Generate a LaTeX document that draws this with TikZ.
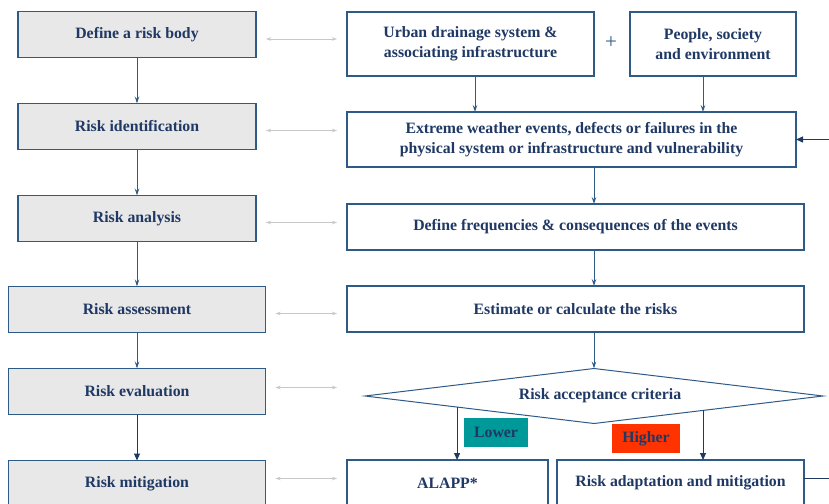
\documentclass[tikz,border=0pt]{standalone}
\usepackage{fontspec}
\setmainfont{Liberation Serif}
\usepackage{xcolor}
\usetikzlibrary{arrows.meta,positioning,shapes.geometric,calc}
\definecolor{navy}{HTML}{1F3864}
\definecolor{edge}{HTML}{2E5A88}
\definecolor{boxgray}{HTML}{E8E8E8}
\definecolor{linkgray}{HTML}{C8C8C8}
\definecolor{lowteal}{HTML}{009999}
\definecolor{highred}{HTML}{FF3300}

\begin{document}
\begin{tikzpicture}[
x=1pt,y=-1pt,
node distance=46pt,
every node/.style={font=\fontsize{15.8}{19.5}\selectfont\bfseries,text=navy,outer sep=0pt},
stepbox/.style={draw=edge,line width=1.1pt,fill=boxgray,minimum width=238pt,minimum height=46pt,inner sep=0pt},
widebox/.style={stepbox,minimum width=257pt},
rbox/.style={draw=edge,line width=1.1pt,fill=white,minimum height=46pt,inner sep=0pt,align=center},
arrow/.style={draw=edge,line width=1pt,-{Stealth[length=7pt,width=4.5pt,inset=2.5pt]}},
tri/.style={draw=navy,line width=1pt,-{Triangle[length=7pt,width=6pt]}},
link/.style={draw=linkgray,line width=.8pt,{Stealth[length=5pt,width=3.5pt]}-{Stealth[length=5pt,width=3.5pt]}},
tag/.style={minimum width=64pt,minimum height=29pt,inner sep=0pt}
]
\useasboundingbox (0,0) rectangle (829,503);
\clip (0,0) rectangle (829,503);

\node[stepbox] (body) at (137,34.5) {Define a risk body};
\node[stepbox,below=of body] (ident) {Risk identification};
\node[stepbox,below=of ident] (ana) {Risk analysis};
\node[widebox,below=45pt of ana] (assess) {Risk assessment};
\node[widebox,below=36pt of assess] (eval) {Risk evaluation};
\node[widebox,below=of eval] (mitig) {Risk mitigation};

\node[rbox,minimum width=247pt,minimum height=64pt] (urban) at (470.5,44) {Urban drainage system \&\\associating infrastructure};
\node[rbox,minimum width=166pt,minimum height=64pt,right=36pt of urban] (people) {People, society\\and environment};
\node[font=\fontsize{21}{21}\selectfont\mdseries,text=edge] (plus) at (611,43) {+};
\node[rbox,minimum width=449pt,minimum height=55pt,below=36pt of urban.south west,anchor=north west] (extreme) {Extreme weather events, defects or failures in the\\physical system or infrastructure and vulnerability};
\node[rbox,minimum width=457pt,below=37pt of extreme.south west,anchor=north west] (freq) {Define frequencies \& consequences of the events};
\node[rbox,minimum width=457pt,below=36pt of freq.south west,anchor=north west] (est) {Estimate or calculate the risks};
\node[diamond,draw=edge,line width=1pt,aspect=8.33,minimum width=458pt,minimum height=55pt,inner sep=0pt] (crit) at (594,396) {\hspace{12pt}Risk acceptance criteria};
\node[rbox,minimum width=201pt] (alapp) at (447.5,483) {ALAPP*};
\node[rbox,minimum width=247pt,right=9pt of alapp] (adapt) {Risk adaptation and mitigation};

\node[tag,fill=lowteal] (lower) at (496,432.5) {Lower};
\node[tag,fill=highred,minimum width=68pt] (higher) at (646,438.5) {Higher};

\foreach \a/\b in {body/ident,ident/ana,ana/assess,assess/eval}
  \draw[arrow] (\a) -- (\a |- \b.north);
\draw[tri] (eval) -- (eval |- mitig.north);

\foreach \a/\dy in {body/-4.5,ident/-4,ana/-4,assess/-4,eval/4,mitig/5}{
  \coordinate (s) at ([yshift=\dy pt]\a.east);
  \draw[link,shorten <=10pt,shorten >=10pt] (s) -- (s -| extreme.west);
}

\draw[arrow] ([xshift=4.5pt]urban.south) -- ([xshift=4.5pt]urban.south |- extreme.north);
\draw[arrow] ([xshift=-10pt]people.south) -- ([xshift=-10pt]people.south |- extreme.north);
\draw[arrow] (crit.north |- extreme.south) -- (crit.north |- freq.north);
\draw[arrow] (crit.north |- freq.south) -- (crit.north |- est.north);
\draw[arrow] (crit.north |- est.south) -- (crit.north);
\coordinate (lo) at ($(crit.west)!.402!(crit.south)$);
\coordinate (hi) at ($(crit.south)!.476!(crit.east)$);
\draw[tri] (lo) -- (lo |- alapp.north);
\draw[tri] (hi) -- (hi |- adapt.north);
\draw[tri] ([yshift=5pt]adapt.east) -- ++(40,0) |- (extreme.east);
\end{tikzpicture}
\end{document}
